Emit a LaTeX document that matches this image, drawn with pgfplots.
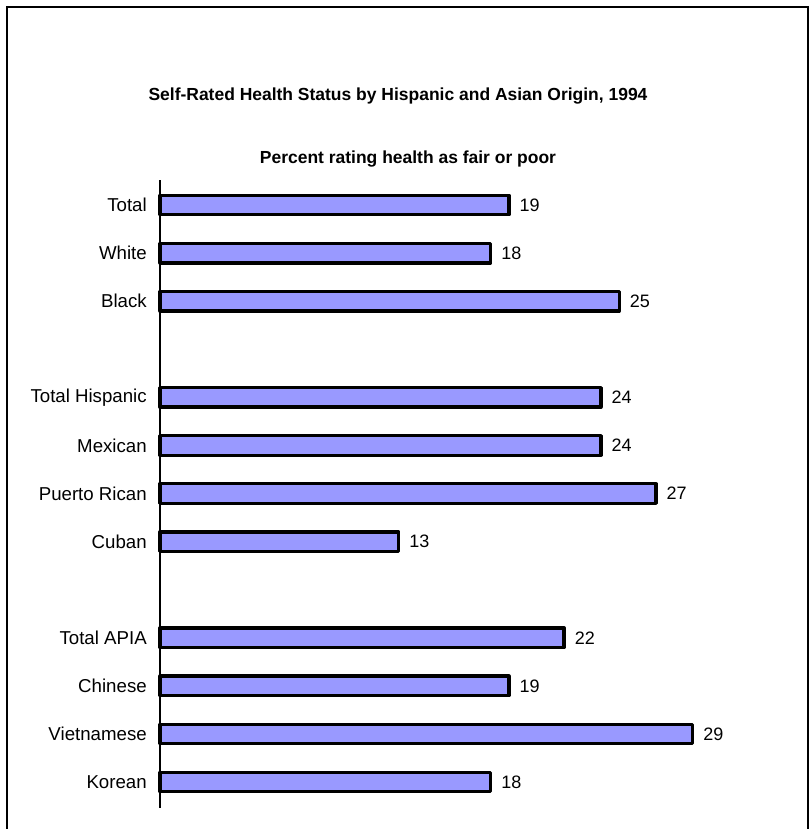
\documentclass[border=0pt]{standalone}
\usepackage{fontspec}
\setmainfont{Liberation Sans}
\usepackage{pgfplots}
\pgfplotsset{compat=1.18}
\definecolor{barfill}{RGB}{153,153,255}
\begin{document}
\begin{tikzpicture}
% page frame and titles (1 unit = 1 px at 0.75pt)
\begin{scope}[x=0.75pt,y=-0.75pt]
  \path[use as bounding box] (0,0) rectangle (812,829);
  \draw[line width=2pt] (7,829) -- (7,7) -- (808,7) -- (808,829);
  \node[font=\bfseries\fontsize{13.1}{15}\selectfont] at (398,96) {Self-Rated Health Status by Hispanic and Asian Origin, 1994};
  \node[font=\bfseries\fontsize{13.1}{15}\selectfont] at (408,159) {Percent rating health as fair or poor};
\end{scope}
\begin{axis}[
  at={(120pt,-135pt)}, anchor=north west,
  scale only axis, width=482.2pt, height=471pt,
  xmin=0, xmax=35, ymin=-0.52, ymax=12.54,
  y dir=reverse,
  xbar, bar width=14.6pt,
  hide x axis,
  axis y line*=left,
  y axis line style={line width=1.2pt},
  ytick={0,1,2,4,5,6,7,9,10,11,12},
  yticklabels={Total,White,Black,Total Hispanic,Mexican\ ,Puerto Rican,Cuban,Total APIA,Chinese,Vietnamese,Korean},
  major tick length=0pt,
  yticklabel style={font=\fontsize{14}{16}\selectfont, inner sep=0pt, xshift=-9.75pt},
  /pgf/number format/assume math mode=true,
  nodes near coords,
  nodes near coords style={font=\fontsize{13.5}{16}\selectfont, anchor=west, inner sep=0pt, xshift=6.75pt},
  clip=false,
]
\addplot[fill=barfill, draw=black, line width=2.5pt, line join=round] coordinates {
  (19,0) (18,1) (25,2)
  (24,4) (24,5) (27,6) (13,7)
  (22,9) (19,10) (29,11) (18,12)
};
\end{axis}
\end{tikzpicture}
\end{document}
